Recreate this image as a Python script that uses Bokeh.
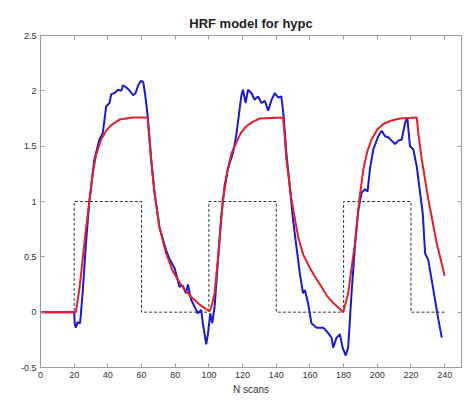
from bokeh.plotting import figure
from bokeh.models import LinearAxis, FixedTicker, CustomJSTickFormatter, Range1d
from bokeh.embed import file_html
from bokeh.resources import INLINE

# ---- data ----
x_ticks = [0, 20, 40, 60, 80, 100, 120, 140, 160, 180, 200, 220, 240]
y_ticks = [-0.5, 0, 0.5, 1, 1.5, 2, 2.5]

stim_scans = [0, 20, 20, 60, 60, 100, 100, 140, 140, 180, 180, 220, 220, 240]
stim_values = [0, 0, 1, 1, 0, 0, 1, 1, 0, 0, 1, 1, 0, 0]

model_scans = [0, 21, 23, 25, 27, 29, 31, 33, 36, 39, 42, 47, 55, 63.5, 64.5, 65.7, 67.7,
               70.6, 74.6, 78.6, 82.5, 86, 90, 94.4, 98, 100.4,
               101.5, 103.4, 106.2, 108.2, 111.2, 113.5, 116.2, 119, 122.2, 126, 130.2, 144,
               145, 146, 149, 153, 156, 160, 163, 166, 170, 174, 177, 179.8,
               182.7, 186.7, 189.2, 191.7, 194, 196.6, 200, 203.6, 208, 213.5, 223.4,
               224.5, 226.4, 230.3, 235.2, 240]
model_values = [0, 0, 0.2, 0.47, 0.75, 1.0, 1.25, 1.42, 1.56, 1.64, 1.69, 1.74, 1.76, 1.76,
                1.6, 1.38, 1.08, 0.77, 0.53, 0.37, 0.27, 0.2, 0.13, 0.07, 0.03, 0.01,
                0.05, 0.17, 0.62, 1.0, 1.29, 1.44, 1.53, 1.62, 1.68, 1.72, 1.75, 1.76,
                1.6, 1.38, 1.02, 0.68, 0.52, 0.40, 0.32, 0.25, 0.15, 0.08, 0.04, 0.0,
                0.17, 0.62, 1.0, 1.29, 1.45, 1.56, 1.65, 1.70, 1.73, 1.75, 1.76,
                1.6, 1.38, 1.02, 0.63, 0.33]

signal_scans = [0, 20, 20.3, 21, 22, 23.5, 25, 27, 29, 32, 35, 37, 39, 41, 42, 44, 46, 48, 49,
                51, 53, 55, 56.5, 58, 59.7, 61, 62.2, 63.7, 65.7, 67.7, 70.6, 74.6, 76.6,
                79.6, 82.5, 84.5, 85.5, 86.5, 87.5, 89.5, 91.5, 93.4, 95.4, 96.4, 98.4,
                99.4, 100.8, 102, 103.4, 105.4, 107.3, 109.3, 111.2, 114.3, 116.2, 118.2,
                119.2, 120.2, 121.8, 123.2, 125.2, 127.2, 129.2, 131.2, 133.2, 135.2,
                137.2, 139.2, 141.1, 143, 144.4, 146, 148, 150, 152, 154, 155.9, 157,
                158.9, 160.9, 163.9, 167.9, 169.8, 172.8, 173.8, 175.8, 177.8, 179.4,
                181.2, 182.7, 184.7, 186.7, 188.7, 190.7, 192.7, 194.2, 195.6, 197.6,
                200.6, 202.6, 204.6, 206.5, 208.5, 210.5, 212.5, 214.5, 216.5, 217.8,
                219.4, 221.4, 223.4, 225.4, 227, 228.4, 230.3, 232.3, 234.3, 236.3, 238.3]
signal_values = [0, 0, -0.10, -0.14, -0.09, -0.10, 0.17, 0.62, 1.0, 1.38, 1.56, 1.62, 1.86,
                 1.89, 1.97, 1.98, 2.01, 2.0, 2.05, 2.03, 2.0, 1.96, 1.98, 2.05, 2.09, 2.08,
                 1.96, 1.77, 1.38, 1.08, 0.77, 0.56, 0.48, 0.40, 0.23, 0.24, 0.20, 0.17,
                 0.25, 0.11, 0.05, -0.01, 0.02, -0.10, -0.29, -0.20, -0.01, -0.10, 0.05,
                 0.47, 0.86, 1.14, 1.29, 1.44, 1.59, 1.83, 1.95, 2.01, 1.89, 2.01, 1.98,
                 1.92, 1.95, 1.89, 1.91, 1.82, 1.92, 1.98, 1.94, 1.95, 1.77, 1.44, 1.14,
                 0.83, 0.59, 0.35, 0.17, 0.20, 0.08, -0.10, -0.14, -0.14, -0.17, -0.23,
                 -0.32, -0.23, -0.20, -0.32, -0.39, -0.32, 0.17, 0.59, 0.92, 1.08, 1.11,
                 1.09, 1.29, 1.47, 1.59, 1.64, 1.59, 1.58, 1.55, 1.52, 1.55, 1.56, 1.71,
                 1.76, 1.50, 1.47, 1.32, 1.08, 0.89, 0.53, 0.47, 0.29, 0.11, -0.07, -0.23]

title_text = "HRF model for hypc"
x_label = "N scans"

# ---- figure ----
FONT = "Liberation Sans"
GRAY = "#9a9a9a"

p = figure(width=468, height=402, output_backend="svg", toolbar_location=None,
           x_range=Range1d(0, 250), y_range=Range1d(-0.5, 2.5),
           min_border_left=40, min_border_right=7, min_border_top=35, min_border_bottom=35,
           x_axis_location=None, y_axis_location=None)
p.background_fill_color = "white"
p.border_fill_color = "white"
p.outline_line_color = GRAY
p.xgrid.visible = False
p.ygrid.visible = False

p.title.text = title_text
p.title.align = "center"
p.title.text_font = FONT
p.title.text_font_size = "13px"
p.title.text_font_style = "bold"
p.title.text_color = "#222222"

label_fmt = CustomJSTickFormatter(code="return tick.toString();")
blank_fmt = CustomJSTickFormatter(code="return '';")

def style_axis(ax, show):
    ax.axis_line_color = GRAY
    ax.major_tick_line_color = GRAY
    ax.major_tick_in = 4
    ax.major_tick_out = 0
    ax.minor_tick_line_color = None
    ax.major_label_text_font = FONT
    ax.major_label_text_font_size = "9px"
    ax.major_label_text_color = "#333333"
    ax.major_label_standoff = 4 if show else 0

xb = LinearAxis(ticker=FixedTicker(ticks=x_ticks), formatter=label_fmt, axis_label=x_label)
style_axis(xb, True)
xb.axis_label_text_font = FONT
xb.axis_label_text_font_size = "10px"
xb.axis_label_text_font_style = "normal"
xb.axis_label_text_color = "#333333"
xb.axis_label_standoff = 3
p.add_layout(xb, "below")

yl = LinearAxis(ticker=FixedTicker(ticks=y_ticks), formatter=label_fmt)
style_axis(yl, True)
p.add_layout(yl, "left")

xt = LinearAxis(ticker=FixedTicker(ticks=x_ticks), formatter=blank_fmt)
style_axis(xt, False)
p.add_layout(xt, "above")

yr = LinearAxis(ticker=FixedTicker(ticks=y_ticks), formatter=blank_fmt)
style_axis(yr, False)
p.add_layout(yr, "right")

p.line(stim_scans, stim_values, line_color="#333333", line_width=1, line_dash="3 2")
p.line(signal_scans, signal_values, line_color="#1a1ad6", line_width=2)
p.line(model_scans, model_values, line_color="#e0202a", line_width=2)

open("out.html", "w").write(file_html(p, INLINE))
